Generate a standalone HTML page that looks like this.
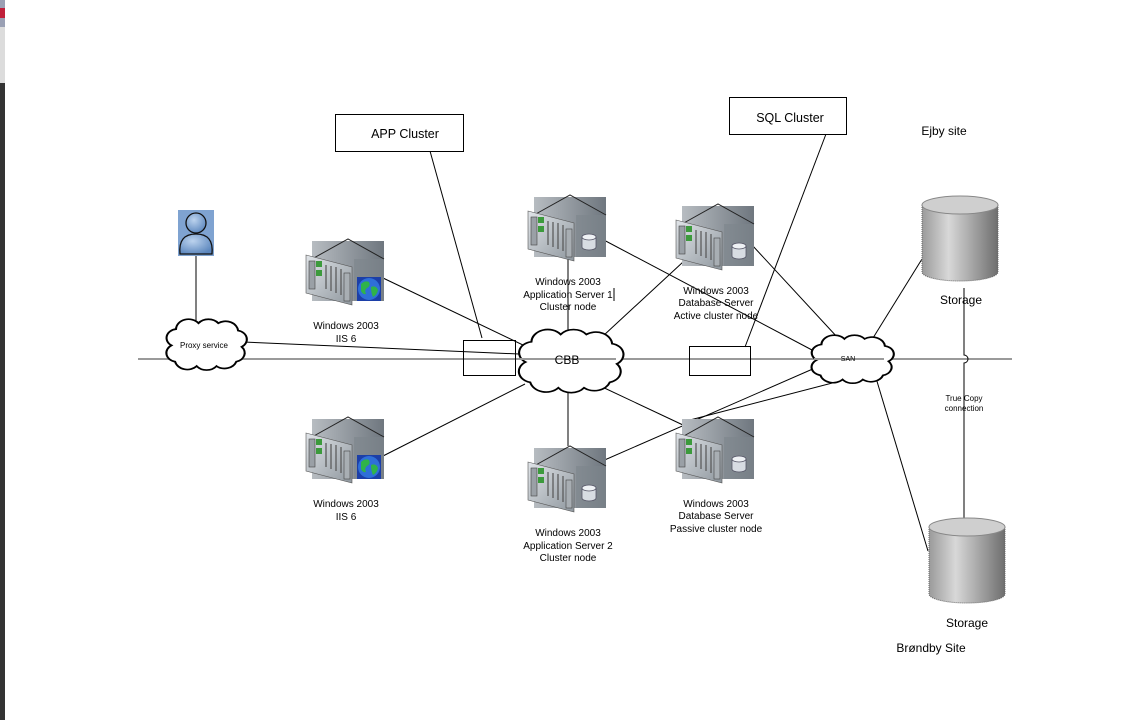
<!DOCTYPE html>
<html><head><meta charset="utf-8"><style>
html,body{margin:0;padding:0;background:#fff;}
body{width:1128px;height:720px;overflow:hidden;position:relative;font-family:"Liberation Sans",sans-serif;}
</style></head><body>
<svg width="1128" height="720" viewBox="0 0 1128 720" xmlns="http://www.w3.org/2000/svg" style="position:absolute;left:0;top:0">
<defs>
<linearGradient id="bk" x1="0" x2="1" y1="0" y2="0"><stop offset="0" stop-color="#b7bcc1"/><stop offset="1" stop-color="#6f777f"/></linearGradient>
<linearGradient id="fr" x1="0" x2="1" y1="0" y2="1"><stop offset="0" stop-color="#e0e4e8"/><stop offset="1" stop-color="#8f979e"/></linearGradient>
<linearGradient id="cyl" x1="0" x2="1"><stop offset="0" stop-color="#9a9a9a"/><stop offset="0.35" stop-color="#d8d8d8"/><stop offset="1" stop-color="#6e6e6e"/></linearGradient>
<radialGradient id="per" cx="0.4" cy="0.35" r="0.7"><stop offset="0" stop-color="#bcd3ee"/><stop offset="1" stop-color="#5b86bd"/></radialGradient>
<symbol id="srv" viewBox="0 0 78 66" overflow="visible">
<rect x="6" y="2" width="72" height="60" fill="url(#bk)"/>
<rect x="48" y="20" width="30" height="42" fill="#7d858c" opacity="0.6"/>
<polyline points="6,20 42,0 78,20" fill="none" stroke="#222" stroke-width="1"/>
<polygon points="0,16 46,28 46,66 0,54" fill="url(#fr)" stroke="#555" stroke-width="0.6"/>
<rect x="3" y="22" width="6" height="28" fill="#9aa0a6" stroke="#444" stroke-width="0.6"/>
<rect x="10" y="22" width="6" height="6" fill="#3c9a3c"/>
<rect x="10" y="31" width="6" height="6" fill="#3c9a3c"/>
<g stroke="#555" stroke-width="1.2"><line x1="20" y1="26" x2="20" y2="50"/><line x1="25" y1="27" x2="25" y2="52"/><line x1="30" y1="28" x2="30" y2="54"/><line x1="35" y1="30" x2="35" y2="56"/></g>
<rect x="38" y="34" width="6" height="28" fill="#a8aeb3" stroke="#444" stroke-width="0.6"/>
</symbol>
<symbol id="db" viewBox="0 0 14 16" overflow="visible">
<path d="M0,3 v10 a7,3 0 0 0 14,0 v-10" fill="#d7dce2" stroke="#556" stroke-width="0.8"/>
<ellipse cx="7" cy="3" rx="7" ry="3" fill="#eef1f4" stroke="#556" stroke-width="0.8"/>
</symbol>
<symbol id="globe" viewBox="0 0 24 24" overflow="visible">
<rect x="0" y="0" width="24" height="24" fill="#1c3fa8"/>
<circle cx="12" cy="12" r="11" fill="#2f6fd8"/>
<path d="M4,7 q4,-4 8,-2 q2,4 -2,6 q-3,2 -1,6 q-3,1 -5,-3 z M14,10 q5,-2 7,3 q-1,5 -5,7 q-2,-4 -2,-10 z" fill="#2fb34a"/>
</symbol>
<path id="cloud" d="M20,15 a14,14 0 0 1 25,-8 a14,14 0 0 1 22,0 a14,14 0 0 1 22,10 a12,12 0 0 1 4,22 a12,12 0 0 1 -6,20 a14,14 0 0 1 -22,6 a14,14 0 0 1 -22,0 a14,14 0 0 1 -24,-6 a12,12 0 0 1 -4,-22 a12,12 0 0 1 5,-22 z"/>
</defs>

<!-- left window strip -->
<rect x="0" y="0" width="5" height="27" fill="#9aa0b4"/>
<rect x="0" y="8" width="5" height="10" fill="#c0203a"/>
<rect x="0" y="27" width="5" height="56" fill="#dcdcdc"/>
<rect x="0" y="83" width="5" height="637" fill="#333"/>

<!-- backbone -->
<line x1="138" y1="359" x2="1012" y2="359" stroke="#9a9a9a" stroke-width="2"/>

<g stroke="#000" stroke-width="1" fill="none">
<line x1="196" y1="256" x2="196" y2="322"/>
<line x1="243" y1="342" x2="519" y2="354"/>
<line x1="383" y1="278" x2="525" y2="346"/>
<line x1="383" y1="456" x2="525" y2="384"/>
<line x1="568" y1="259" x2="568" y2="332"/>
<line x1="568" y1="446" x2="568" y2="390"/>
<line x1="600" y1="238" x2="812" y2="350"/>
<line x1="603" y1="336" x2="683" y2="262"/>
<line x1="598" y1="385" x2="683" y2="425"/>
<line x1="752" y1="245" x2="838" y2="338"/>
<line x1="600" y1="462" x2="815" y2="368"/>
<line x1="690" y1="420" x2="840" y2="381"/>
<line x1="873" y1="338" x2="922" y2="259"/>
<line x1="876" y1="378" x2="928" y2="551"/>
<line x1="430" y1="151" x2="482" y2="338"/>
<line x1="826" y1="134" x2="745" y2="347"/>
<path d="M964,288 V355 a4,4 0 0 1 0,8 V520"/>
</g>

<!-- boxes -->
<rect x="335.5" y="114.5" width="128" height="37" fill="#fff" stroke="#000"/>
<text x="405" y="138" font-size="12.5" text-anchor="middle">APP Cluster</text>
<rect x="729.5" y="97.5" width="117" height="37" fill="#fff" stroke="#000"/>
<text x="790" y="122" font-size="12.5" text-anchor="middle">SQL Cluster</text>
<rect x="463.5" y="340.5" width="52" height="35" fill="none" stroke="#000"/>
<rect x="689.5" y="346.5" width="61" height="29" fill="none" stroke="#000"/>

<!-- clouds -->
<use href="#cloud" transform="translate(158,318) scale(0.9,0.74)" fill="#fff" stroke="#000" stroke-width="2.3"/>
<text x="204" y="348" font-size="8" text-anchor="middle">Proxy service</text>
<use href="#cloud" transform="translate(508,328) scale(1.17,0.92)" fill="#fff" stroke="#000" stroke-width="1.8"/>
<line x1="520" y1="359" x2="616" y2="359" stroke="#9a9a9a" stroke-width="2"/>
<text x="567" y="364" font-size="12" text-anchor="middle">CBB</text>
<use href="#cloud" transform="translate(803,334) scale(0.92,0.7)" fill="#fff" stroke="#000" stroke-width="2.3"/>
<line x1="814" y1="359" x2="884" y2="359" stroke="#9a9a9a" stroke-width="2"/>
<text x="848" y="361" font-size="7" text-anchor="middle">SAN</text>

<!-- person -->
<rect x="178" y="210" width="36" height="46" fill="#7fa3d1"/>
<circle cx="196" cy="223" r="10" fill="url(#per)" stroke="#111" stroke-width="1.3"/>
<path d="M180,254 q-2,-20 16,-20 q18,0 16,20 z" fill="url(#per)" stroke="#111" stroke-width="1.3"/>

<!-- servers -->
<use href="#srv" x="306" y="239" width="78" height="66"/>
<use href="#globe" x="357" y="277" width="24" height="24"/>
<use href="#srv" x="306" y="417" width="78" height="66"/>
<use href="#globe" x="357" y="455" width="24" height="24"/>
<use href="#srv" x="528" y="195" width="78" height="66"/>
<use href="#db" x="582" y="234" width="14" height="16"/>
<use href="#srv" x="528" y="446" width="78" height="66"/>
<use href="#db" x="582" y="485" width="14" height="16"/>
<use href="#srv" x="676" y="204" width="78" height="66"/>
<use href="#db" x="732" y="243" width="14" height="16"/>
<use href="#srv" x="676" y="417" width="78" height="66"/>
<use href="#db" x="732" y="456" width="14" height="16"/>

<!-- server labels -->
<g font-size="10" text-anchor="middle" fill="#000">
<text x="346" y="329">Windows 2003</text><text x="346" y="342">IIS 6</text>
<text x="346" y="507">Windows 2003</text><text x="346" y="520">IIS 6</text>
<text x="568" y="285">Windows 2003</text><text x="568" y="298">Application Server 1</text><text x="568" y="310">Cluster node</text>
<text x="568" y="536">Windows 2003</text><text x="568" y="549">Application Server 2</text><text x="568" y="561">Cluster node</text>
<text x="716" y="294">Windows 2003</text><text x="716" y="306">Database Server</text><text x="716" y="319">Active cluster node</text>
<text x="716" y="507">Windows 2003</text><text x="716" y="519">Database Server</text><text x="716" y="532">Passive cluster node</text>
</g>
<line x1="614" y1="288" x2="614" y2="301" stroke="#000"/>

<!-- storage -->
<path d="M922,205 V272 a38,9 0 0 0 76,0 V205" fill="url(#cyl)" stroke="#666" stroke-dasharray="1,1"/>
<ellipse cx="960" cy="205" rx="38" ry="9" fill="#cfcfcf" stroke="#888"/>
<path d="M929,527 V594 a38,9 0 0 0 76,0 V527" fill="url(#cyl)" stroke="#666" stroke-dasharray="1,1"/>
<ellipse cx="967" cy="527" rx="38" ry="9" fill="#cfcfcf" stroke="#888"/>
<rect x="944" y="391" width="40" height="22" fill="#fff"/>
<line x1="964" y1="390" x2="964" y2="415" stroke="#000"/>
<g text-anchor="middle">
<text x="961" y="304" font-size="12">Storage</text>
<text x="967" y="627" font-size="12">Storage</text>
<text x="944" y="135" font-size="12">Ejby site</text>
<text x="931" y="652" font-size="12">Brøndby Site</text>
<text x="964" y="401" font-size="8">True Copy</text>
<text x="964" y="411" font-size="8">connection</text>
</g>
</svg>
</body></html>
